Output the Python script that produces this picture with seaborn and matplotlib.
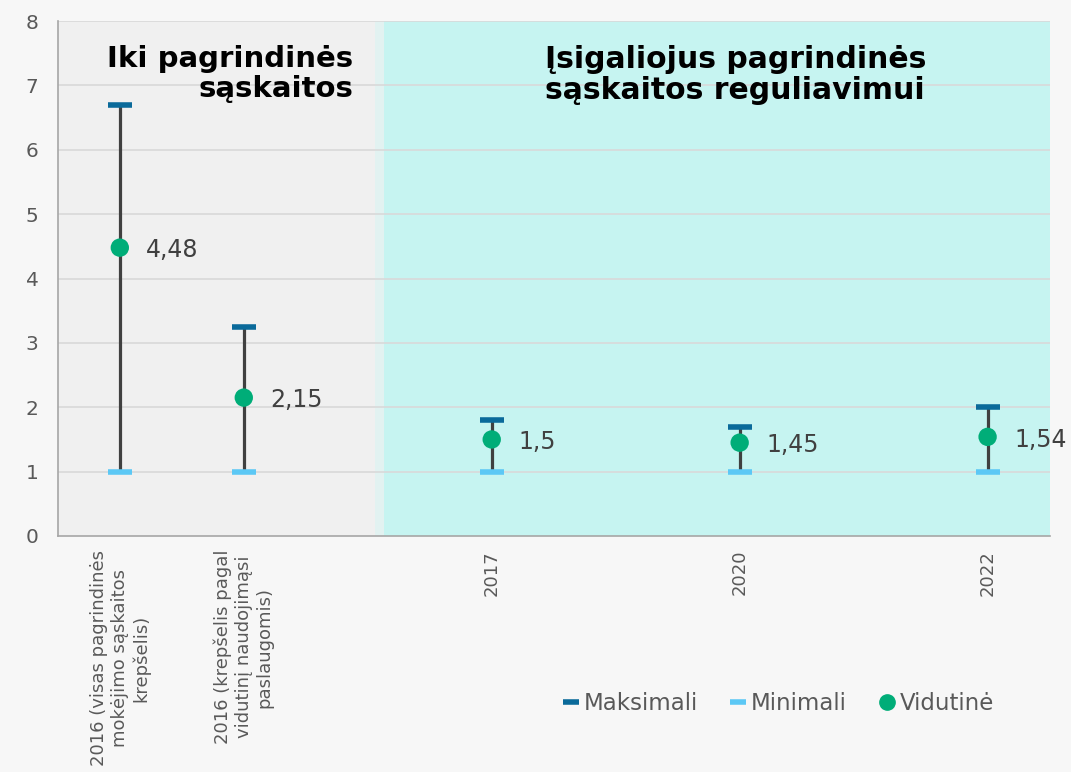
import numpy as np
import pandas as pd
import seaborn as sns
from matplotlib import pyplot as plt
from matplotlib.lines import Line2D

# Data (blank slots keep the gaps between categories)
categories = [
    "2016 (visas pagrindinės\nmokėjimo sąskaitos\nkrepšelis)",
    "2016 (krepšelis pagal\nvidutinį naudojimąsi\npaslaugomis)",
    "", "2017", "", "2020", "", "2022",
]
max_vals = [6.7, 3.25, np.nan, 1.8, np.nan, 1.7, np.nan, 2.0]
min_vals = [1.0, 1.0, np.nan, 1.0, np.nan, 1.0, np.nan, 1.0]
avg_vals = [4.48, 2.15, np.nan, 1.5, np.nan, 1.45, np.nan, 1.54]
avg_labels = ["4,48", "2,15", "", "1,5", "", "1,45", "", "1,54"]
legend_labels = ["Maksimali", "Minimali", "Vidutinė"]

df = pd.DataFrame({"cat": categories, "max": max_vals, "min": min_vals, "avg": avg_vals})
df["pos"] = np.arange(len(df))
df = df.dropna()

c_max = "#0a6a9a"
c_min = "#5cc8f5"
c_avg = "#00ad78"
c_txt = "#595959"

sns.set_theme(style="white")
plt.rcParams["font.family"] = ["DejaVu Sans"]

fig = plt.figure(figsize=(10.71, 7.72), dpi=100, facecolor="#f7f7f7")
ax = fig.add_axes([0.054, 0.3057, 0.926, 0.667])
ax.set_facecolor("#f7f7f7")

# shaded periods
ax.axvspan(-0.5, 2.06, color="#f0f0f0", zorder=0, lw=0)
ax.axvspan(2.06, 2.13, color="#e2f2f1", zorder=0, lw=0)
ax.axvspan(2.13, 7.5, color="#c6f4f1", zorder=0, lw=0)

for y in range(1, 9):
    ax.axhline(y, color="#d9d9d9", lw=1.2, zorder=1)

ax.vlines(df["pos"], df["min"], df["max"], color="#404040", lw=2.3, zorder=2)
ax.plot(df["pos"], df["max"], ls="none", marker="_", ms=17, mew=4, color=c_max, zorder=3)
ax.plot(df["pos"], df["min"], ls="none", marker="_", ms=17, mew=4, color=c_min, zorder=3)
sns.scatterplot(data=df, x="pos", y="avg", s=175, color=c_avg, edgecolor="none",
                ax=ax, zorder=4, legend=False)

for _, r in df.iterrows():
    ax.annotate(avg_labels[int(r["pos"])], (r["pos"], r["avg"]), xytext=(19, -2),
                textcoords="offset points", ha="left", va="center",
                fontsize=17, color="#404040", zorder=5)

ax.set_xlim(-0.5, 7.5)
ax.set_ylim(0, 8)
ax.set_yticks(range(0, 9))
ax.set_xticks(range(len(categories)))
ax.set_xticklabels(categories, rotation=90, ha="center", va="top",
                   multialignment="center", fontsize=13, color=c_txt)
ax.tick_params(axis="y", labelsize=14.5, labelcolor=c_txt, length=0, pad=14)
ax.tick_params(axis="x", length=0, pad=10)
ax.set_xlabel("")
ax.set_ylabel("")
for s in ["top", "right"]:
    ax.spines[s].set_visible(False)
for s in ["left", "bottom"]:
    ax.spines[s].set_color("#a6a6a6")
    ax.spines[s].set_linewidth(1.2)

ax.text(1.88, 7.63, "Iki pagrindinės\nsąskaitos", ha="right", va="top",
        fontsize=21, fontweight="bold", color="black", linespacing=1.1)
ax.text(3.43, 7.63, "Įsigaliojus pagrindinės\nsąskaitos reguliavimui", ha="left", va="top",
        fontsize=21.5, fontweight="bold", color="black", linespacing=1.1)

handles = [
    Line2D([], [], ls="none", marker="_", ms=12, mew=4, color=c_max),
    Line2D([], [], ls="none", marker="_", ms=12, mew=4, color=c_min),
    Line2D([], [], ls="none", marker="o", ms=11, color=c_avg),
]
fig.legend(handles, legend_labels, loc="center", bbox_to_anchor=(0.727, 0.089), ncol=3,
           frameon=False, fontsize=16.5, labelcolor=c_txt, handlelength=0.7,
           handletextpad=0.2, columnspacing=1.4)

fig.savefig("out.png", dpi=100, facecolor=fig.get_facecolor())
